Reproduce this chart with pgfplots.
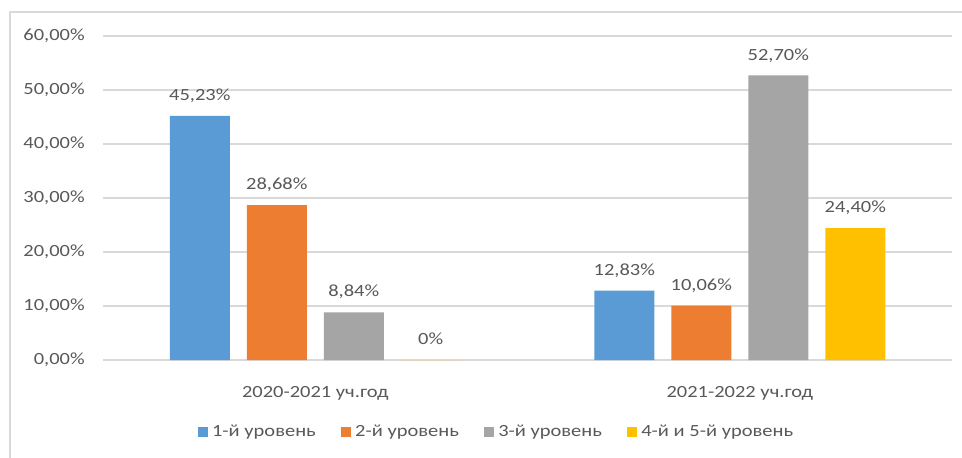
\documentclass[border=0pt]{standalone}
\usepackage{pgfplots}
\pgfplotsset{compat=1.18}
\usepackage{fontspec}
\setmainfont{Carlito}[FakeStretch=1.2]
\definecolor{cblue}{HTML}{5B9BD5}
\definecolor{corange}{HTML}{ED7D31}
\definecolor{cgray}{HTML}{A5A5A5}
\definecolor{cyellow}{HTML}{FFC000}
\definecolor{txt}{HTML}{595959}
\definecolor{grd}{HTML}{D9D9D9}
\pgfplotsset{sqlegend/.style={legend image code/.code={\fill[##1,draw=none] (0pt,-3.75pt) rectangle (7.5pt,3.75pt);}}}
\begin{document}
\fontsize{12.8pt}{15pt}\selectfont
\begin{tikzpicture}
\useasboundingbox (0,0) rectangle (721.5pt,342.75pt);
\fill[white] (0,0) rectangle (721.5pt,342.75pt);
\draw[grd, line width=1.1pt] (7.5pt,-5pt) -- (7.5pt,333.75pt) -- (730pt,333.75pt);
\begin{axis}[
  at={(77.25pt,72.75pt)}, anchor=south west,
  scale only axis, width=636.75pt, height=243pt,
  ybar=12.75pt, bar width=45pt,
  xmin=-0.5, xmax=1.5, ymin=0, ymax=60,
  xtick={0,1}, xticklabels={2020-2021 уч.год, 2021-2022 уч.год},
  ytick={0,10,20,30,40,50,60},
  yticklabels={{0,00\%},{10,00\%},{20,00\%},{30,00\%},{40,00\%},{50,00\%},{60,00\%}},
  axis line style={draw=none},
  major tick style={draw=none},
  ymajorgrids, major grid style={grd, line width=0.8pt},
  yticklabel style={anchor=east, inner sep=0pt, xshift=-13.5pt, text=txt},
  xticklabel style={anchor=base, inner sep=0pt, yshift=-24pt, text=txt},
  nodes near coords,
  point meta=explicit symbolic,
  every node near coord/.append style={anchor=base, inner sep=0pt, yshift=11.5pt, text=txt},
  legend columns=4,
  legend style={draw=none, fill=none, at={(0.464,-0.222)}, anchor=center,
    text=txt, /tikz/every even column/.append style={column sep=17pt},
    /tikz/every odd column/.append style={column sep=1pt}},
  clip=false,
]
\addplot[fill=cblue, draw=none, sqlegend] coordinates {(0,45.23) [45,23\%] (1,12.83) [12,83\%]};
\addplot[fill=corange, draw=none, sqlegend] coordinates {(0,28.68) [28,68\%] (1,10.06) [10,06\%]};
\addplot[fill=cgray, draw=none, sqlegend] coordinates {(0,8.84) [8,84\%] (1,52.70) [52,70\%]};
\addplot[fill=cyellow, draw=none, sqlegend] coordinates {(0,0) [0\%] (1,24.40) [24,40\%]};
\legend{1-й уровень, 2-й уровень, 3-й уровень, 4-й и 5-й уровень}
\end{axis}
\end{tikzpicture}
\end{document}
